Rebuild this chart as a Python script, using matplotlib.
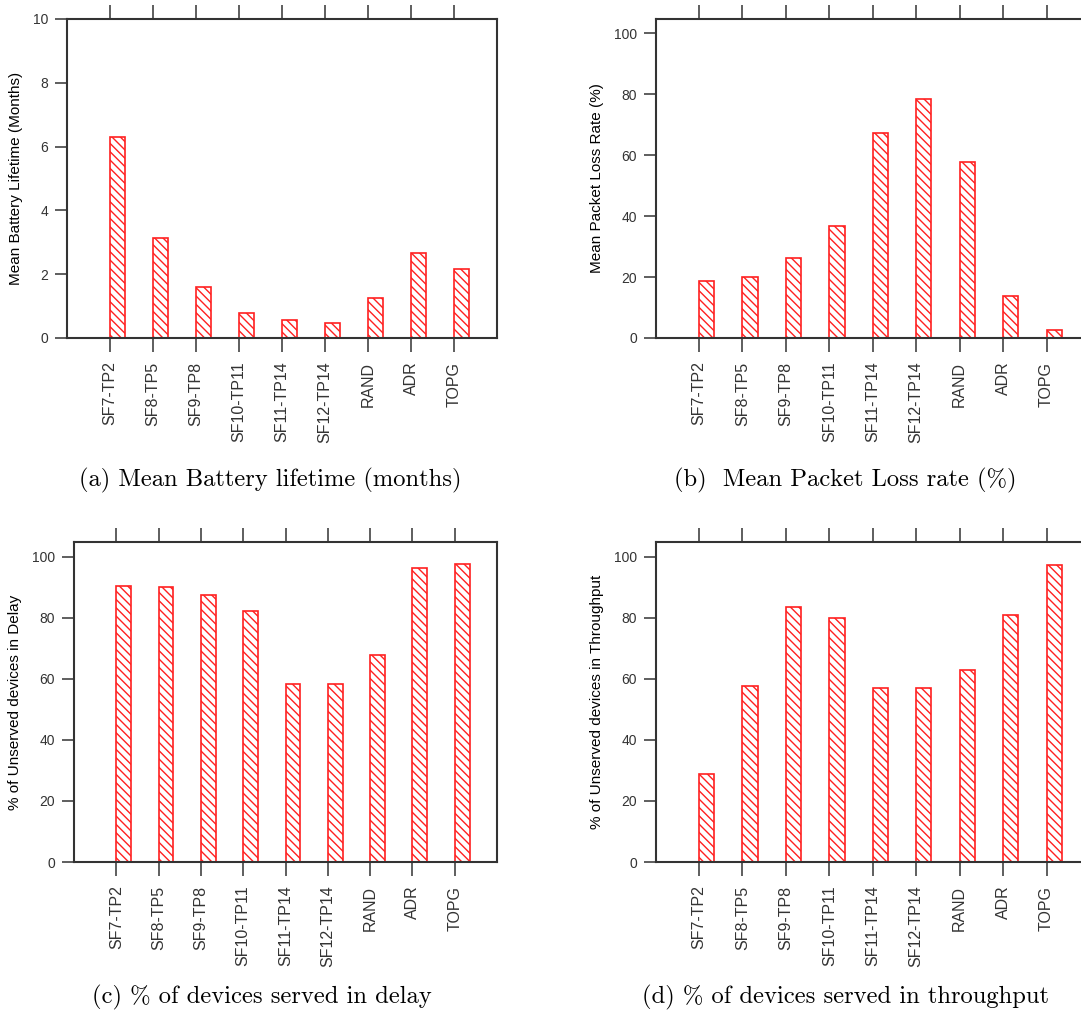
import matplotlib
matplotlib.use("Agg")
import matplotlib.pyplot as plt

plt.rcParams["font.family"] = ["Liberation Sans", "DejaVu Sans"]
plt.rcParams["hatch.linewidth"] = 1.0
plt.rcParams["hatch.color"] = "#ff2020"

labels = ["SF7-TP2", "SF8-TP5", "SF9-TP8", "SF10-TP11", "SF11-TP14",
          "SF12-TP14", "RAND", "ADR", "TOPG"]

battery = [6.3, 3.15, 1.6, 0.78, 0.55, 0.46, 1.26, 2.66, 2.16]
packet_loss = [18.7, 20.0, 26.2, 36.8, 67.2, 78.5, 57.7, 13.8, 2.6]
delay_served = [90.5, 90.2, 87.6, 82.4, 58.2, 58.5, 67.8, 96.5, 97.6]
thr_served = [28.9, 57.8, 83.6, 80.0, 57.2, 57.2, 63.0, 81.0, 97.2]

panels = [
    (battery, "Mean Battery Lifetime (Months)", (0, 10), [0, 2, 4, 6, 8, 10],
     [67, 19, 497, 338], "(a) Mean Battery lifetime (months)", (270, 480)),
    (packet_loss, "Mean Packet Loss Rate (%)", (0, 104.7), [0, 20, 40, 60, 80, 100],
     [655.5, 19, 1090, 338], "(b)  Mean Packet Loss rate (%)", (845, 480)),
    (delay_served, "% of Unserved devices in Delay", (0, 104.9), [0, 20, 40, 60, 80, 100],
     [74, 542, 497, 862], "(c) % of devices served in delay", (262, 997)),
    (thr_served, "% of Unserved devices in Throughput", (0, 104.9), [0, 20, 40, 60, 80, 100],
     [655.5, 542, 1090, 862], "(d) % of devices served in throughput", (845, 997)),
]

W, H = 1081, 1014
fig = plt.figure(figsize=(W / 100, H / 100), dpi=100)

pos = list(range(1, len(labels) + 1))
dark = "#333333"

for vals, ylab, ylim, yticks, (x0, y0, x1, y1), cap, (cx, cy) in panels:
    ax = fig.add_axes([x0 / W, 1 - y1 / H, (x1 - x0) / W, (y1 - y0) / H])
    ax.bar(pos, vals, width=0.35, align="edge", color="white",
           edgecolor="#ff2020", hatch="\\\\\\\\", linewidth=1.2)
    ax.set_xlim(0, 10)
    ax.set_ylim(*ylim)
    ax.set_yticks(yticks)
    ax.set_xticks(pos)
    ax.set_xticklabels(labels, rotation=90, fontsize=11.5, color=dark)
    ax.tick_params(axis="x", direction="out", length=10, width=1.1, color=dark,
                   pad=7, top=True)
    ax.tick_params(axis="y", direction="out", length=8.5, width=1.1, color=dark,
                   labelsize=10, labelcolor=dark, pad=5)
    for s in ax.spines.values():
        s.set_linewidth(1.5)
        s.set_color(dark)
    ax.set_ylabel(ylab, fontsize=11, color="black", labelpad=7)
    fig.text(cx / W, 1 - cy / H, cap, ha="center", va="center",
             fontsize=17.7, family=["cmr10", "DejaVu Serif"])

fig.savefig("out.png", dpi=100)
